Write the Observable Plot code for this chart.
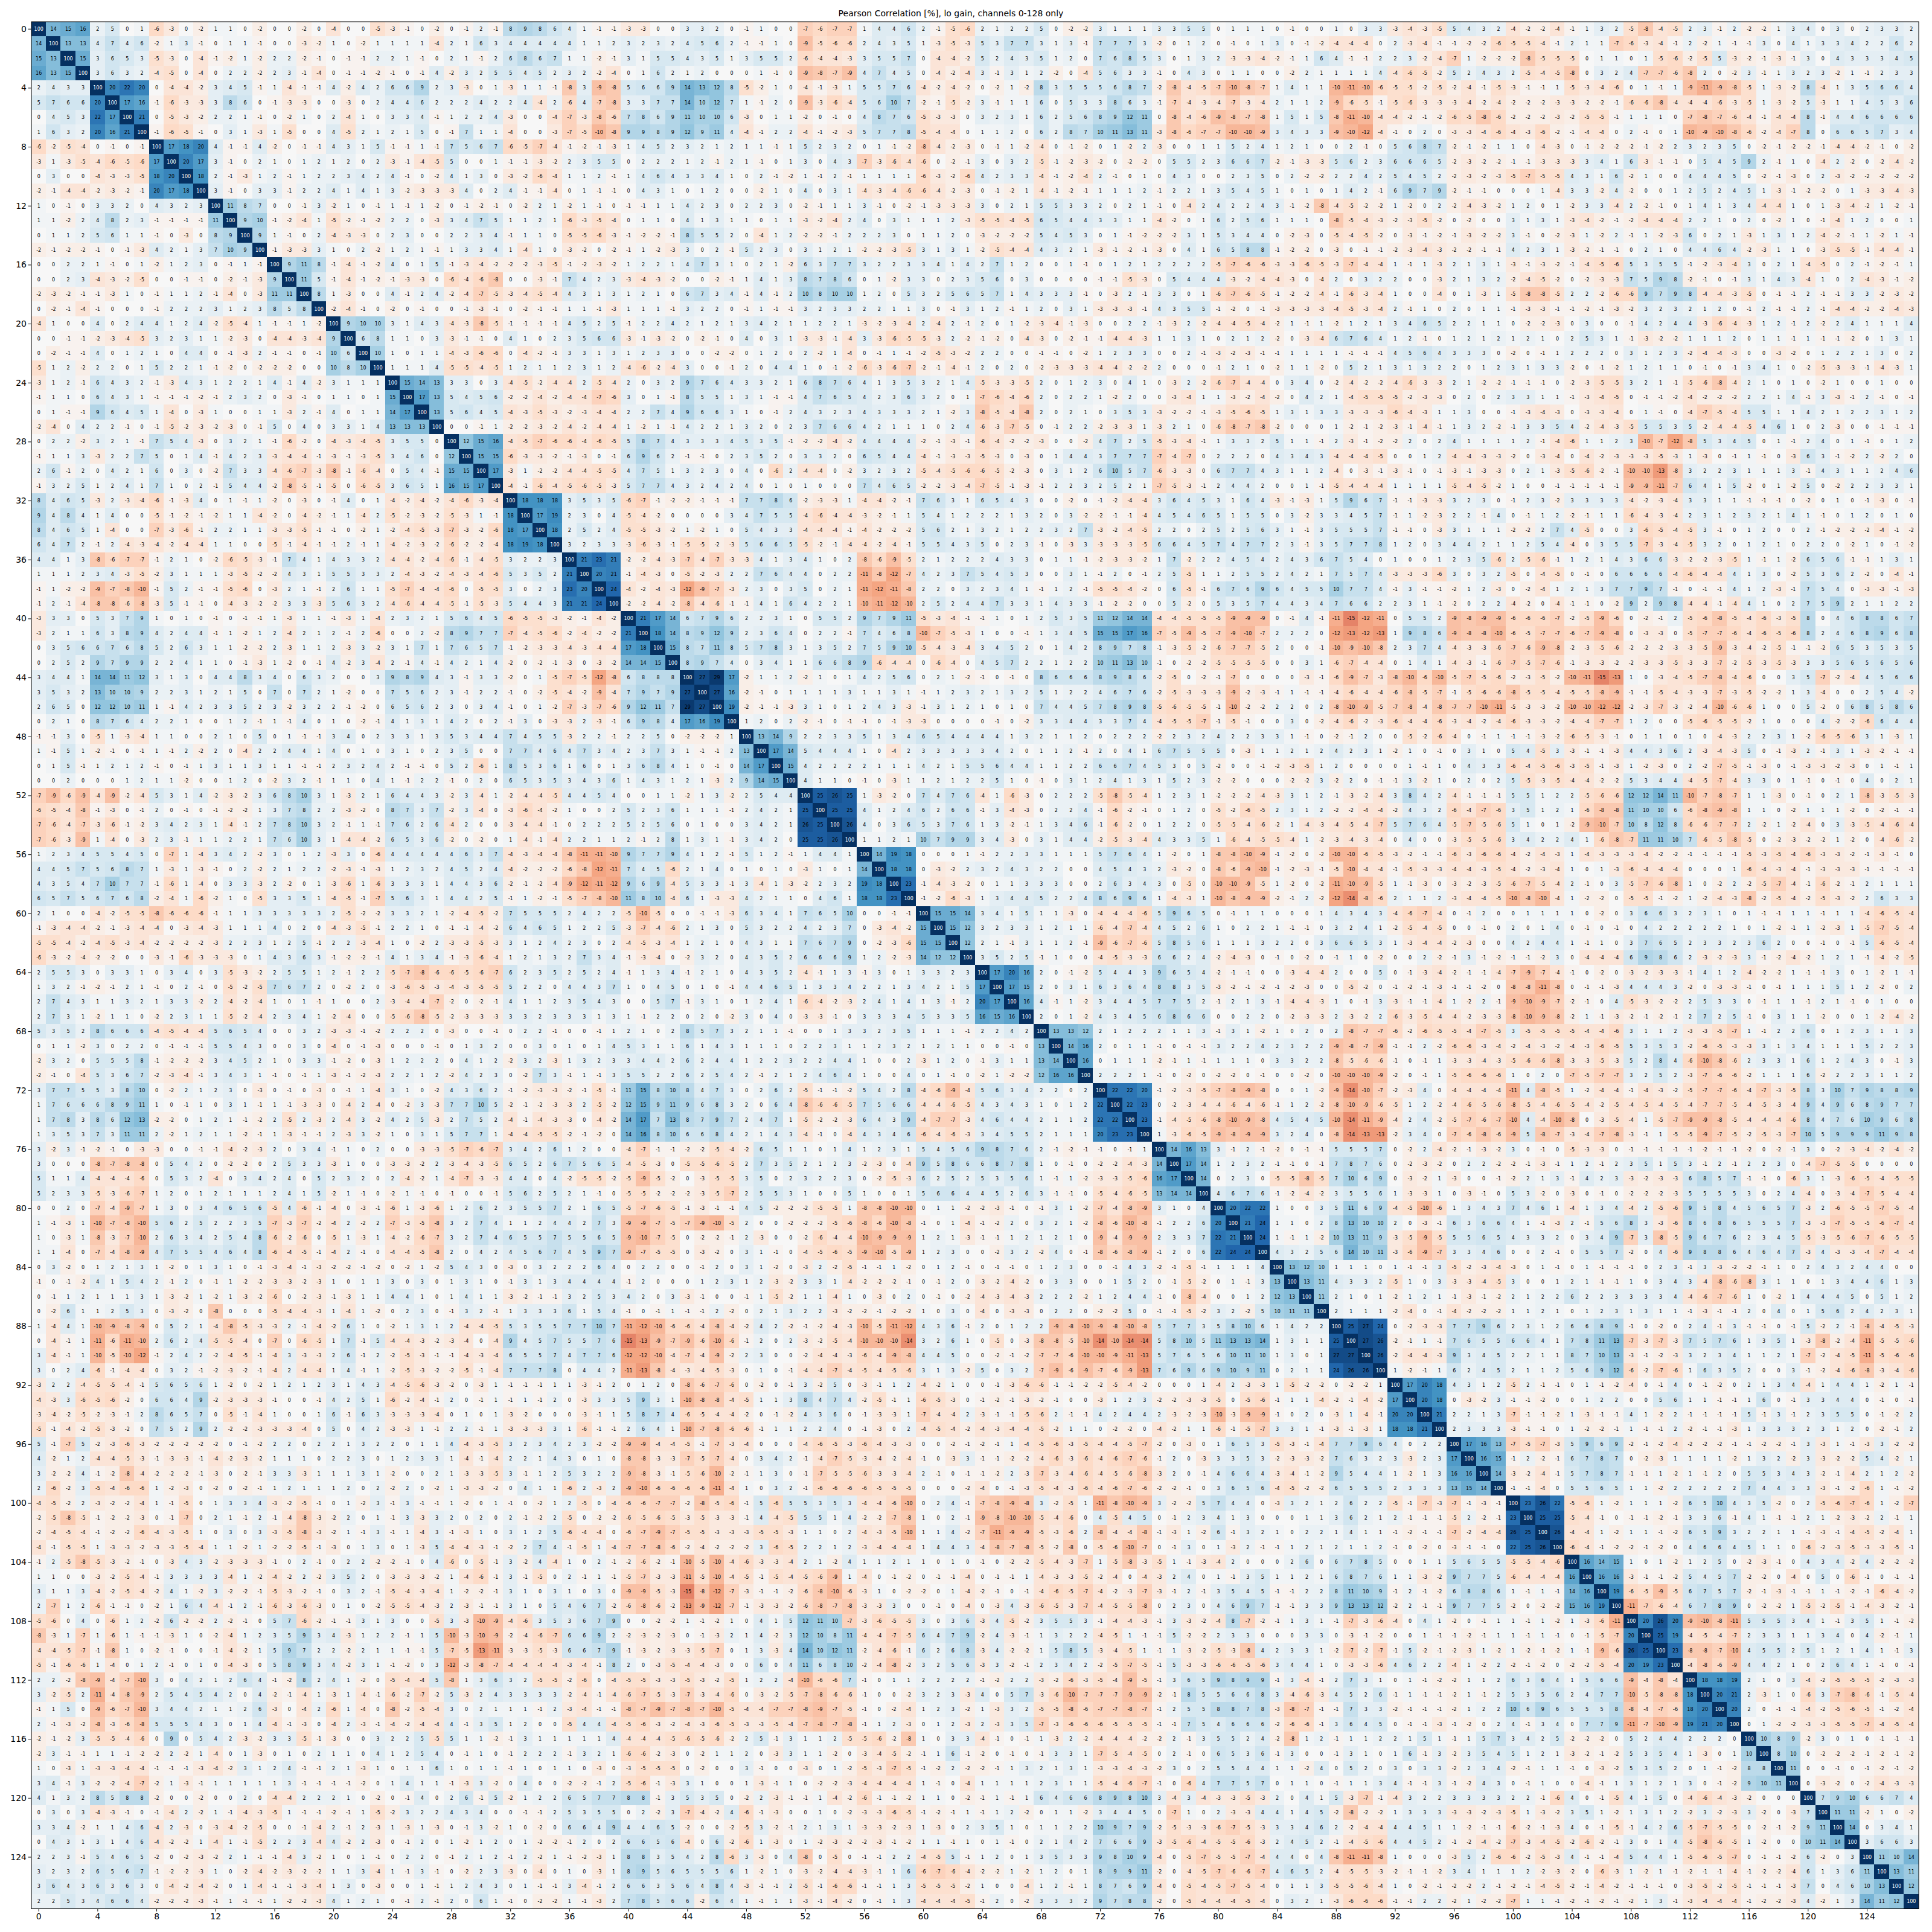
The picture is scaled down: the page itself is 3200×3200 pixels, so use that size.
<!doctype html>
<html><head><meta charset="utf-8">
<style>html,body{margin:0;padding:0;background:#fff}</style>
<script src="https://cdn.jsdelivr.net/npm/d3@7"></script>
<script src="https://cdn.jsdelivr.net/npm/@observablehq/plot@0.6"></script>
</head><body><div id="c"></div>
<script>
const title="Pearson Correlation [%], lo gain, channels 0-128 only";
const tickValues=[0,4,8,12,16,20,24,28,32,36,40,44,48,52,56,60,64,68,72,76,80,84,88,92,96,100,104,108,112,116,120,124];
const colorStops=[-30,-24,-18,-12,-6,0,6,12,18,24,30];
const colorRange=["#67001f","#b2182b","#d6604d","#f4a582","#fddbc7","#f7f7f7","#d1e5f0","#92c5de","#4393c3","#2166ac","#053061"];
// channels 0-63 x 0-63: each row starts just right of the diagonal
const upperA=[
[14,15,16, 2,5,0,1, -6,-3,0,-2, 1,1,0,-2, 0,0,-2,0, -4,0,0,-5, -3,-1,0,-2, 0,-1,2,-1, 8,9,8,6, 4,1,-1,-1, -3,-3,0,0, 3,3,2,0, -1,1,0,0, -7,-6,-7,-7, 1,4,4,6, 2,-1,-5,-6],
[13,13, 4,7,4,6, -2,1,3,-1, 0,1,1,-1, 0,0,-3,-2, 1,0,-2,1, 1,1,1,-4, 2,1,6,3, 4,4,4,4, 4,1,1,2, 3,2,3,2, 4,5,6,2, -1,-1,1,0, -9,-5,-6,-6, 2,4,3,5, 1,-3,-5,-3],
[15, 3,6,5,3, -5,-3,0,-4, -1,-2,1,-2, 2,2,-2,-1, 0,-1,-1,2, 2,1,-1,0, 2,1,-1,2, 6,8,6,7, 1,1,-2,-1, 3,1,5,5, 4,3,5,1, 3,5,5,2, -6,-4,-4,-3, 3,5,5,7, 0,-4,-4,-2],
[3,6,3,2, -4,-5,0,-4, 0,2,2,-2, 2,3,-1,-4, 0,-1,-1,-2, -1,0,-1,4, -2,3,2,5, 5,4,5,2, 3,2,-2,-4, 0,1,6,2, 1,2,0,0, 0,1,-1,0, -9,-8,-7,-9, 4,7,4,5, 0,-4,-2,-4],
[20,22,20, 0,-4,-4,-2, 3,4,5,-1, 1,-4,-1,-1, 4,-2,4,2, 6,6,9,2, 3,-3,0,1, -3,1,1,-1, -8,3,-9,-8, 5,6,6,9, 14,13,12,8, -5,-2,1,0, -4,-1,-3,1, 5,5,7,6, -4,-2,-4,-2],
[17,16, -1,-6,-3,-3, 3,8,6,0, -1,-3,-3,0, 0,-3,0,2, 4,4,6,2, 2,2,4,2, 2,4,-4,2, -6,4,-7,-8, 3,3,7,7, 14,10,12,7, 1,-1,2,0, -9,-3,-6,-4, 5,6,10,7, -2,-1,-5,-2],
[21, 0,-5,-3,-2, 2,2,1,-1, 0,-2,1,0, 2,-4,1,0, 3,3,4,-1, 1,2,2,4, -3,0,0,-4, -7,-3,-8,-6, 7,8,6,9, 11,10,10,6, -3,0,1,1, -2,0,-1,0, 4,8,7,6, -5,-3,-3,0],
[-1,-6,-5,-1, 0,3,1,-3, 1,-5,0,0, 4,-5,2,1, 2,1,5,0, -1,7,1,1, -4,0,0,-3, -7,-5,-10,-8, 9,9,8,9, 12,9,11,4, -4,-1,2,2, -4,-1,-2,-3, 5,7,7,8, -5,-4,-4,0],
[17,18,20, 4,-1,-1,4, -2,0,-1,-1, 4,3,1,5, -1,-1,1,-1, 7,5,6,7, -6,-5,-7,-4, -1,-2,-1,-3, 1,4,5,2, 3,2,1,2, 1,1,-1,1, 5,2,3,2, 0,1,-1,-2, -8,-4,-2,-3],
[20,17, 3,-1,0,2, 1,0,1,2, 1,2,0,2, -3,-1,-4,-5, 5,0,0,1, -1,-1,-3,-2, 2,3,5,5, 0,2,2,2, 1,2,-1,2, 1,-1,0,1, 3,0,4,3, -7,-3,-6,-4, -6,0,-2,-1],
[18, 2,-1,-3,1, 2,-1,1,2, 2,3,4,2, 4,-1,0,-2, 4,1,3,0, -3,-2,-6,-4, 1,1,2,-1, 1,4,6,4, 3,3,4,1, 0,2,-1,-2, 1,-1,2,-1, 1,1,1,1, -6,-3,-2,-6],
[3,-1,0,3, 3,-1,2,2, 4,1,4,1, 3,-2,-3,-3, -3,4,0,2, 4,-1,-1,-4, 0,1,-1,-1, 0,4,3,1, 0,1,2,0, 0,-2,1,0, 4,0,3,1, -4,-3,-4,-6, -6,-4,-2,-3],
[11,8,7, 0,0,-1,3, -2,1,0,-1, 1,-1,1,-2, 0,-1,-2,-1, 0,-2,2,1, -2,1,-1,0, -1,-1,1,1, 4,2,3,0, 2,2,3,0, -2,-1,1,1, 3,-1,0,-2, -1,-3,-3,-3, 1,-2,-3,-2],
[9,10, -1,-2,-4,1, -5,-2,-1,-2, 2,2,0,-3, 3,4,7,5, 1,1,2,1, -6,-3,-5,-4, 0,1,1,0, 4,1,3,1, 1,0,1,1, -3,-2,-4,2, 4,0,3,1, 1,1,2,-3],
[9, 1,-1,0,2, -4,-3,-3,0, 2,3,0,0, 2,2,3,4, -1,1,1,0, -5,-5,-6,-3, -1,-2,-2,-1, 8,5,5,2, 0,-4,1,2, -2,-2,-1,2, 2,2,3,0, 1,1,2,0],
[-1,-3,-3,3, 1,0,2,-2, 1,2,1,-1, 1,3,3,4, 1,-4,1,0, -3,-2,0,-2, -1,1,-2,-3, 3,0,2,-1, 5,2,3,0, 3,1,2,1, -2,-2,-3,-5, 3,1,3,1],
[9,11,8, -1,-4,-1,-2, 4,0,1,5, -1,-3,-4,-2, -2,-2,-3,-5, -1,-2,-3,-2, 1,2,2,1, 4,7,3,1, 0,2,1,-2, 6,3,7,7, 3,2,2,3, 3,4,1,4],
[11,5, -1,-4,-1,-2, -1,-3,-3,0, -6,-4,-6,-8, 0,0,-3,-1, 7,4,2,3, -3,-4,-3,-2, 0,0,-2,-1, 1,4,1,3, 8,7,8,6, 0,1,-2,3, 3,0,2,3],
[8, 1,-3,0,0, 4,-1,2,4, -2,-4,-7,-5, -3,-4,-5,-4, 4,3,1,3, 1,2,1,0, 6,7,3,4, -1,4,-1,2, 10,8,10,10, 1,2,0,5, 3,2,5,6],
[-2,-4,-1,0, -2,0,-1,0, 0,-1,-3,-1, 0,-2,-1,-1, 1,1,-1,-3, 1,1,1,-1, 3,2,2,0, -1,1,-1,-1, 3,2,3,3, 2,2,1,1, 3,0,-1,3],
[9,10,10, 3,1,4,3, -4,-3,-8,-5, -1,-1,-1,-1, 4,5,2,5, -1,2,2,4, 2,1,2,1, 3,4,2,1, 1,2,2,1, -3,-2,-3,-4, 2,-4,2,-1],
[6,8, 1,1,0,3, -3,-1,-1,0, 4,1,0,2, 3,5,6,6, -3,-1,-3,-2, 0,-2,-1,0, 4,0,3,1, -3,-3,-1,-4, 3,-3,-6,-5, -5,-3,2,-2],
[10, 1,0,1,1, -4,-3,-6,-6, 0,-4,-2,-1, 3,3,1,3, 1,2,3,3, 0,0,-2,-2, 0,1,2,0, 2,-2,1,-4, 0,-1,1,-1, -2,-5,-3,-2],
[1,1,1,4, -5,-5,-4,-5, 1,2,1,1, 2,3,1,2, -4,-6,-2,-4, 3,0,0,-1, 2,0,4,4, 1,0,-1,-2, -6,-3,-6,-7, -2,-1,-4,-1],
[15,14,13, 3,3,0,3, -4,-5,-2,-4, -4,2,-5,-4, 2,0,3,2, 9,7,6,4, 3,3,2,1, 6,8,7,6, 4,1,3,5, 3,2,1,4],
[17,13, 5,4,5,6, -2,-2,-4,-2, -4,-4,-7,-6, 3,0,1,-1, 8,5,5,1, 3,1,-1,-1, 4,7,6,5, 4,2,3,6, 3,2,0,1],
[13, 5,6,4,5, -4,-3,-5,-3, -2,-3,-4,-4, 2,2,7,4, 9,6,6,3, 1,0,-1,2, 4,3,2,3, 4,3,3,3, 2,1,-2,3],
[0,0,-1,1, -2,-2,-3,-2, -4,-2,-4,-4, 1,-2,1,-1, 4,2,2,1, 3,2,0,2, 3,7,6,6, 4,2,1,1, 1,0,2,4],
[12,15,16, -4,-5,-7,-6, -6,-4,-6,-5, 5,8,7,4, 3,3,3,4, 5,3,5,-1, -2,-2,-4,-2, 4,4,4,4, -2,-1,-3,-1],
[15,15, -6,-3,-3,-2, -1,-3,0,-1, 6,9,6,2, -1,-1,0,2, 3,5,2,0, 3,3,2,0, 6,5,4,4, -4,-1,-3,-3],
[17, -3,1,-2,-2, -4,-4,-5,-5, 4,7,5,1, 3,2,3,0, 4,0,-6,2, -4,-4,0,-2, 3,2,3,2, -5,-4,-5,-6],
[-4,-1,-6,-4, -5,-6,-5,-3, 5,7,7,4, 3,2,4,2, 4,0,1,0, 1,0,0,0, 7,4,6,5, -2,-2,-3,-4],
[18,18,18, 3,5,3,5, -6,-7,-1,-2, -2,-1,-1,-1, 7,7,8,6, -2,-3,-3,1, -4,-4,-2,-1, 7,6,3,1],
[17,19, 2,3,0,4, -5,-4,-2,0, 0,0,0,3, 4,7,5,5, -4,-6,-4,-4, -3,-2,-1,1, 5,4,1,2],
[18, 2,5,2,4, -5,-5,-3,-2, 1,-2,1,0, 5,4,3,3, -4,-4,-4,-1, -4,-2,-2,-2, 5,6,2,1],
[3,2,3,3, -3,-6,-3,-1, -5,-5,-2,-3, 5,6,6,5, -5,-2,-1,-4, -4,-2,-4,-1, 5,5,4,3],
[21,23,21, -2,-2,-4,-3, -7,-4,-7,-3, -3,4,1,3, 4,1,0,2, -8,-6,-9,-5, 2,1,2,2],
[20,21, -1,-4,-3,0, -5,-2,-3,2, 2,7,6,4, 4,0,2,2, -11,-8,-12,-7, 4,2,3,7],
[24, -4,-2,-4,-3, -12,-9,-7,-3, 2,3,0,3, 5,0,2,1, -11,-12,-11,-8, 2,2,0,3],
[-2,-2,-4,-2, -8,-4,-6,-1, -1,4,1,6, 4,2,2,1, -10,-11,-12,-10, 2,5,2,4],
[21,17,14, 6,7,9,6, 2,2,3,1, 0,5,5,2, 9,7,9,11, -5,-3,-4,-1],
[18,14, 8,9,12,9, 2,3,6,4, 0,2,2,-1, 7,4,6,8, -10,-7,-5,-3],
[15, 8,7,11,8, 5,7,8,3, 1,3,5,2, 7,5,9,10, -5,-4,-3,-4],
[8,9,7,4, 0,3,4,1, 1,6,6,8, 9,-6,-4,-4, 0,-6,-4,0],
[27,29,17, -2,1,1,2, -2,1,0,1, 4,2,5,6, 0,2,1,-2],
[27,16, -2,-1,0,1, 1,1,1,3, 1,1,3,1, -1,1,2,3],
[19, -2,-1,-1,-3, 3,1,0,1, 2,4,3,-3, -1,3,1,2],
[1,2,0,2, -2,-1,0,-1, -1,0,-1,-3, -3,0,0,0],
[13,14,9, 2,2,3,3, 5,1,3,4, 6,5,4,4],
[17,14, 5,4,4,4, 1,0,-4,2, 3,3,3,3],
[15, 4,2,2,2, 2,1,1,1, 4,2,1,5],
[4,1,1,0, -1,0,-3,1, 1,2,1,2],
[25,26,25, 1,-3,-2,0, 7,4,7,6],
[25,25, 4,1,2,4, 6,2,6,6],
[26, 4,0,3,6, 5,3,7,6],
[1,1,2,1, 10,7,9,9],
[14,19,18, 0,0,0,1],
[18,18, 0,-3,-2,2],
[23, -1,-4,-3,-2],
[-1,-2,-6,-3],
[15,15,14],
[15,12],
[12],
[]
];
// channels 0-63 (rows) x 64-127 (columns)
const blockB=[
[2,1,2,2, 5,0,-2,-2, 3,1,1,1, 3,3,5,5, 0,1,1,1, 0,-1,0,0, 1,0,3,3, -3,-4,-3,-5, 5,4,3,2, -4,-2,-2,-4, -1,1,3,2, -5,-8,-4,-5, 2,3,-1,2, -2,-2,1,3, 4,0,3,0, 2,3,3,2],
[5,3,7,7, 3,1,3,-1, 7,7,7,3, -2,0,1,2, 0,-1,0,1, 3,0,-1,-2, -4,-4,-4,0, 2,-3,-4,-1, -1,-2,-2,-6, -5,-5,-4,-1, 2,1,1,-7, -6,-3,-4,-1, 2,-2,1,-1, -1,3,0,4, 1,3,3,4, 2,2,6,2],
[5,2,4,3, 5,1,2,0, 7,6,8,5, 3,0,1,3, 2,-3,-3,-4, -2,-1,1,6, 4,-1,-1,2, 2,3,-2,-4, -7,1,-2,-2, -2,-8,-5,-5, -5,0,1,1, 0,1,-5,-6, -2,-5,5,-3, -2,-1,-3,-1, 3,0,4,3, 3,3,4,5],
[3,-1,3,1, 2,-2,0,-4, 5,6,3,3, -1,0,4,3, 0,1,1,0, 0,-2,2,1, 1,1,1,4, -4,-6,-5,-2, 5,2,4,3, 2,-5,-4,-5, -8,0,3,2, 4,-7,-7,-6, -8,2,0,-2, 3,-1,1,3, 2,3,-2,1, -1,2,3,3],
[0,-2,1,-2, 8,3,5,5, 5,6,8,7, -2,-8,-4,-5, -7,-10,-8,-7, 1,4,1,1, -10,-11,-10,-6, -5,-5,-2,-5, -2,-4,-1,-5, -3,-1,-1,1, -5,-3,-4,-6, 0,1,-1,1, -9,-11,-9,-8, -5,1,-3,-2, 8,-4,1,3, 5,6,6,4],
[3,-1,1,1, 6,0,5,3, 3,8,6,3, -1,-7,-4,-3, -4,-7,-3,-4, 2,1,1,2, -9,-6,-5,-1, -5,-6,-3,-3, -3,-4,-2,-4, -2,-2,-2,-3, -3,-2,-2,-1, -6,-6,-8,-4, -4,-4,-6,-3, -5,1,-3,-2, 5,-3,1,1, 4,5,3,6],
[3,2,3,1, 6,2,5,6, 8,9,12,11, 0,-8,-4,-6, -9,-8,-7,-8, 1,5,1,5, -8,-11,-10,-4, -4,-2,-1,-2, -6,-5,-8,-6, -2,-2,-2,-3, -2,-5,-5,-1, 1,1,1,0, -7,-8,-7,-6, -4,-1,-4,-4, 8,-1,4,4, 6,6,6,6],
[1,1,2,0, 6,2,8,7, 10,11,13,11, -3,-8,-6,-7, -7,-10,-10,-9, 3,4,3,3, -9,-10,-12,-4, -1,0,2,0, -3,-3,-4,-6, -4,-3,-6,-2, -1,-4,-4,0, 2,-1,0,1, -10,-9,-10,-8, -6,-2,-4,-7, 8,0,6,6, 5,7,3,4],
[0,-1,1,-2, -4,0,-1,-2, 0,1,-2,2, -3,0,0,1, 1,5,2,4, 1,2,1,0, 0,2,-1,0, 5,6,8,7, -2,-1,-2,1, 1,0,-4,-3, 0,-1,-2,-2, -2,-1,-2,2, 3,2,3,5, 0,-2,-1,-2, -2,-1,-4,-4, -2,-1,0,-2],
[3,0,3,2, -5,-1,-2,-3, -2,0,-2,-2, 0,5,5,2, 3,6,6,7, -2,-1,-3,-3, 5,6,2,3, 6,6,6,5, -2,-3,-2,-2, -1,-1,-3,-3, -3,3,4,1, 6,-3,-1,-1, 0,5,4,5, 9,2,-1,1, 0,-4,2,-2, 0,-2,-4,-2],
[4,2,3,3, -4,-1,-2,-4, 2,-1,0,1, 0,4,3,0, 0,2,3,5, 0,2,-2,-2, 2,2,4,2, 5,4,5,2, -2,-3,-2,-3, -5,-7,-5,-5, 4,3,1,6, -2,1,0,0, 4,4,4,5, 0,-2,-1,-3, 0,2,-3,-2, -2,-2,-2,-2],
[0,-1,-2,1, -4,-1,-2,-1, 1,1,1,2, -1,2,2,1, 3,5,4,5, 1,0,1,0, 1,4,2,-1, 6,9,7,9, -2,-1,-1,0, 0,0,1,-4, 3,3,-2,4, -2,0,0,1, 2,5,2,4, 5,1,-3,-1, -2,-2,0,1, -3,-3,-4,-3],
[3,0,2,1, 5,5,3,3, 2,0,2,1, -1,0,-4,2, 4,2,2,4, 3,-1,-2,-8, -4,-5,-2,-2, 1,-2,0,2, -2,-4,-3,-2, 1,2,0,1, -2,3,3,-4, 2,-2,-1,0, 1,4,1,3, 4,-4,-4,1, 0,1,-3,-4, -2,1,-2,-1],
[-5,-5,-4,-5, 6,5,4,4, 3,3,1,1, -4,-2,0,1, 6,2,5,6, 1,1,1,0, -8,-5,-4,-3, -2,-3,-5,-2, 0,-2,0,0, 3,1,3,1, -3,-4,-2,-1, -2,-4,-4,-4, 2,2,1,0, 2,0,-2,1, 0,-1,-4,1, 2,0,0,1],
[-3,-2,-2,-2, 5,4,5,3, 0,1,-1,-2, -2,-2,3,1, 5,3,4,4, 0,-2,-3,0, -5,-4,-5,-2, 0,-3,-1,-2, -1,-3,-2,-2, 3,-1,0,-2, -3,1,-2,2, -1,1,-2,-3, 6,0,2,1, -3,1,3,1, 2,-4,-2,-1, 1,-2,1,-1],
[-2,-5,-4,-4, 4,3,2,1, -3,-1,-2,-1, -3,0,4,1, 6,5,8,8, -1,-2,-2,0, -3,0,-1,-1, -2,-3,-4,-3, -2,-2,-1,-1, 4,2,3,1, -3,-2,-1,-1, 0,2,1,0, 4,4,6,4, -2,-3,1,1, 0,-3,-5,-5, -1,-4,-4,-1],
[2,7,1,2, 0,0,1,-1, 0,1,2,1, 2,2,2,2, -5,-7,-6,-6, -3,-3,-6,-5, -3,-7,-4,-4, 1,-1,1,-3, 2,1,3,1, -3,-1,-3,-2, -1,-4,-5,-6, 5,3,5,5, -1,-2,-3,-4, 3,0,2,1, -4,-5,0,2, -1,-2,-1,1],
[5,6,0,3, 0,0,0,0, -1,-1,-5,-3, 0,5,4,4, 4,-3,-2,-4, -4,-3,0,-4, 2,0,3,2, 2,0,0,-3, 2,1,3,2, -2,-4,-5,-2, 0,-2,-3,-3, 7,5,9,8, -2,-1,0,-1, 3,1,4,3, -4,1,0,2, -4,-3,-1,-2],
[5,7,1,4, 3,3,3,-1, 0,-3,2,-1, 3,3,0,1, -6,-7,-6,-5, -1,-2,-2,-4, -1,-6,-3,-4, 1,0,0,-4, 0,1,-3,1, -5,-8,-8,-5, 2,2,-2,-6, -6,9,7,9, 8,-4,-4,-3, -5,0,-1,-1, 2,-1,-1,3, 3,-2,-3,-2],
[1,2,-1,1, 2,0,3,1, -3,-3,-3,-1, 4,3,5,5, -1,-2,0,-1, -3,-3,-3,-3, -4,-5,-3,-4, 2,-1,1,0, 2,0,1,1, -1,-3,-3,-1, -1,-2,-1,-3, -2,3,2,3, 2,1,2,0, -1,2,-1,-1, 2,-1,-4,-4, -2,-2,-4,-3],
[2,0,1,-2, -3,-4,-1,-3, 0,0,2,2, -1,-3,2,-2, -4,-4,-5,-4, -2,1,-1,1, -2,1,2,1, 3,4,6,5, 2,2,1,1, 0,-2,-2,-3, 0,3,0,0, -1,4,2,4, 4,-3,-6,-4, -3,1,2,-1, 2,-2,2,4, 1,1,1,4],
[-1,-2,0,-4, -3,0,-2,-1, -1,-4,-4,-3, 1,1,3,1, 0,2,1,2, -2,0,-3,-4, 6,7,6,4, 1,2,-1,0, 1,2,1,2, 1,2,1,0, 2,5,3,1, -1,-3,-2,-2, 1,1,1,2, 0,1,1,-1, 1,-1,-1,-2, 0,1,3,1],
[2,2,0,0, -1,-1,0,-2, 1,2,3,3, 0,0,2,-1, -3,-2,-3,-1, -1,1,1,1, 1,-1,-1,-1, 4,5,6,4, 3,3,3,0, -2,0,-1,1, 2,2,2,0, 3,1,2,3, -2,-4,-4,-3, 0,0,-3,-2, 0,1,2,2, 1,3,0,2],
[2,0,2,0, -2,-3,-3,-3, -4,-4,-2,-2, 2,0,0,0, -1,2,1,0, -2,1,1,-2, 0,5,2,1, 3,1,3,2, 2,0,1,2, 3,1,3,3, -2,0,-1,-2, 1,2,1,1, 0,-1,0,-1, 3,4,1,0, -2,-5,-3,-3, -1,-4,-3,1],
[-5,-3,-3,-5, 2,0,1,2, 3,0,4,1, 0,-3,2,-2, -6,-7,-4,-4, 0,3,4,0, -2,-4,-2,-2, -4,-6,-3,-3, 2,1,-2,-2, -1,-1,-1,0, -2,-3,-5,-5, 3,2,1,-1, -5,-6,-8,-4, 2,1,0,1, 0,-2,1,0, 0,1,0,0],
[-7,-6,-4,-6, 2,0,2,2, 1,-2,2,0, 0,-3,-4,1, 1,-3,-2,-4, -2,0,4,2, 1,-4,-5,-5, -5,-2,-3,-3, 0,2,0,2, 3,3,1,1, -1,-3,-4,-5, 0,-1,-1,-2, -4,-2,-2,-2, 2,2,1,4, -1,3,-3,-1, 2,-1,0,-1],
[-8,-5,-4,-8, 2,0,2,1, 0,3,5,3, -3,-2,-2,-1, -3,-5,-6,-5, 1,3,1,3, 3,-3,-3,-3, -6,-4,-3,1, 1,3,0,0, -1,-3,-4,-3, 0,-3,-3,-4, 0,1,-1,0, -4,-7,-5,-4, 5,5,1,1, 4,2,1,2, 2,3,1,2],
[-6,-3,-7,-5, 0,-1,2,2, -2,-3,-3,1, -3,2,1,0, -6,-8,-7,-8, -2,0,0,0, 1,-2,-1,-2, -3,-1,-4,-1, 1,3,2,-2, -1,3,3,5, 4,-2,-4,-3, -5,5,5,3, 5,-2,-4,-4, -5,4,6,1, 0,2,-3,0, 0,-1,-1,-1],
[-6,-4,-2,-2, -3,0,0,-2, 4,7,2,5, -5,-3,-4,-1, 1,3,3,2, 5,1,1,-1, 2,-3,-1,-2, -2,2,0,2, 4,1,1,1, 1,2,-1,-4, -6,1,1,2, 3,-10,-7,-12, -8,5,3,4, 5,0,1,-1, 2,4,0,1, -1,0,1,2],
[-5,-3,0,-3, 0,1,4,4, 3,7,7,7, -7,-4,-7,0, 2,2,2,0, 4,3,4,3, -4,-4,-4,-5, 0,0,1,2, -4,-4,-3,-3, -2,0,-3,-4, 0,-4,-2,-3, -3,-3,-5,-3, 1,-3,0,-1, 1,-1,0,-3, 6,3,-1,-2, 2,-2,2,0],
[-6,-5,-2,-3, 0,3,1,2, 6,10,5,7, -6,-3,-3,0, 6,7,7,4, 3,1,1,2, -4,0,-3,-1, -3,-1,0,-1, -3,-1,-3,-3, 0,2,1,-3, -5,-6,-2,-1, -10,-10,-13,-8, 3,2,2,3, 1,1,1,3, -1,4,3,1, 1,2,4,6],
[-7,-5,-1,-3, -1,2,2,3, 2,5,2,1, -7,-5,-3,-1, 2,4,4,2, 0,0,1,-1, -5,-4,-4,-4, 1,1,1,1, -5,-4,-5,-2, 1,0,0,-1, -1,-1,-1,-1, -9,-9,-11,-7, 6,4,1,5, -2,0,1,-2, 5,0,-2,2, 2,3,3,1],
[6,5,4,3, 0,0,-2,0, -1,-2,-4,-4, 3,6,4,5, 3,1,6,4, -3,-1,-3,1, 5,9,6,7, -1,-1,-3,-3, 3,2,3,0, -1,2,3,-2, 3,3,3,3, -4,-2,-3,-4, 3,3,1,1, -1,-1,-1,0, -2,0,1,0, -1,-3,0,-1],
[2,2,1,3, 2,0,3,-2, -2,-1,-1,-4, 4,5,4,6, 5,1,5,5, 0,3,-2,3, 3,4,5,7, -1,1,-2,-3, 2,2,-1,4, 0,-1,1,2, -2,-1,1,1, -6,-4,-3,-4, 2,3,1,2, 3,2,1,4, 1,-1,0,1, 2,0,1,0],
[3,2,1,2, 2,3,2,7, -3,-2,-4,-5, 2,2,0,2, 5,2,5,6, 3,1,-1,3, 5,5,5,7, -1,-1,0,-3, 3,1,1,1, -2,-2,2,7, 4,-5,0,0, 3,-6,-5,-4, -5,3,-1,0, 1,2,0,0, 2,-1,-2,-2, -2,-4,-1,-2],
[5,0,2,3, -1,0,-3,3, -3,-3,-3,-5, 6,6,4,5, 7,4,7,7, 2,3,-1,3, 5,7,7,8, 1,2,0,3, 4,4,2,1, 1,2,5,4, -4,0,3,5, 5,-7,-3,-4, -5,3,2,0, 1,2,1,0, 2,2,0,-2, 1,0,-1,-2],
[2,4,3,3, 0,1,1,-1, -2,-3,-3,-2, 1,7,-2,2, 2,4,5,4, 2,4,3,6, 7,5,4,0, 1,0,0,1, 2,3,5,-6, 2,-5,-6,-1, 1,2,1,4, 3,6,6,-3, -2,-2,-3,-5, 1,-1,1,-2, 6,5,6,-1, -1,1,3,1],
[5,4,5,3, 0,0,3,1, -1,2,0,-1, 2,5,-5,1, 1,2,5,5, 2,4,2,1, 7,5,7,4, -3,-3,-3,-6, 3,0,3,2, -5,0,-4,-5, 0,-1,0,6, 6,6,6,-4, -6,-4,-4,4, 1,3,0,-2, 5,3,6,2, -2,0,-4,-1],
[2,3,4,1, -1,1,2,-1, -5,-5,-4,-2, 0,6,-5,-1, 6,7,6,9, 6,4,5,5, 10,7,7,4, -1,3,-1,-1, -2,1,2,-3, 0,-2,-4,1, 2,1,3,7, 7,9,7,-1, 0,-1,-1,4, 1,2,-3,-1, 7,5,4,0, -3,-3,-1,-3],
[4,7,3,3, 1,4,3,3, -1,-2,-2,0, 0,5,-2,0, 5,3,5,7, 4,4,3,4, 7,6,6,2, 2,3,1,-1, -2,0,2,2, -4,-2,0,-4, -1,-1,0,-2, 9,2,9,8, -4,-4,-1,-4, 4,1,0,2, 7,5,9,2, 1,1,2,2],
[-1,1,0,1, 2,5,3,5, 11,12,14,14, -4,-4,-5,-5, -5,-9,-9,-9, 0,-1,4,-1, -11,-15,-12,-11, 0,5,5,2, -9,-8,-9,-9, -6,-6,-6,-7, -2,-5,-9,-6, 0,-2,-1,2, -5,-6,-8,-5, -4,-6,-3,-5, 8,0,4,6, 8,8,6,7],
[1,0,0,-1, 1,3,4,5, 15,15,17,16, -7,-5,-9,-5, -7,-9,-10,-7, 2,2,2,0, -12,-13,-12,-13, 1,9,8,6, -9,-8,-8,-10, -6,-5,-7,-7, -6,-7,-9,-8, 0,-3,-3,0, -5,-7,-7,-6, -4,-6,-5,-6, 8,2,4,6, 8,9,6,8],
[3,4,5,2, 0,1,4,2, 8,9,7,8, -1,-3,-5,-2, -6,-7,-7,-5, 2,0,0,-1, -10,-9,-10,-8, 2,3,7,4, -4,-3,-3,-6, -7,-6,-9,-8, -2,-3,-5,-6, -2,-2,-2,-3, -3,-5,-9,-3, -4,-2,-5,-1, -1,-2,6,5, 3,5,3,5],
[4,5,7,2, 2,1,2,2, 10,11,13,10, -1,0,-2,-2, -5,-5,-5,-5, 0,0,3,1, -6,-7,-4,-4, 0,1,4,1, -4,-3,-1,-6, -7,-5,-7,-6, -1,-3,-3,-2, -2,-3,-3,-5, -3,-3,-7,-2, -5,-3,-5,-3, 3,3,5,6, 5,6,5,6],
[-1,0,-1,0, 8,6,6,6, 8,9,8,6, -2,-5,0,-2, -1,-7,0,0, 0,0,-3,-1, -6,-9,-7,-3, -8,-10,-6,-10, -5,-7,-5,-6, -2,-3,-5,-2, -10,-11,-15,-13, 1,0,-3,-4, -5,-7,-8,-4, -6,0,0,3, 5,-7,-2,-4, 4,5,6,6],
[2,1,3,2, 5,1,2,2, 4,6,7,6, -2,-5,-3,-3, -3,-9,-2,-3, -1,1,-1,-1, -4,-6,-4,-4, -6,-8,-5,-7, -1,-5,-6,-6, -8,-5,-5,-4, -5,-5,-8,-9, -1,-1,-5,-4, -3,-3,-7,-3, -5,-2,-2,1, 3,-4,0,0, 2,5,4,-2],
[1,0,1,0, 7,4,4,5, 7,8,9,8, -5,-6,-5,-5, -1,-10,-2,-2, 2,2,0,2, -8,-10,-9,-5, -7,-8,-4,-8, -7,-7,-10,-11, -5,-3,-3,-2, -10,-10,-12,-12, -2,-3,-7,-3, -2,-4,-10,-6, -6,1,0,0, 5,-2,0,6, 8,5,8,6],
[0,-1,0,-2, 3,3,4,4, 3,3,7,4, -4,-5,-5,-7, -1,-5,-1,0, 0,3,0,-2, -4,-6,-2,-3, -6,-4,-4,-6, -3,-4,-2,-4, -6,-3,-3,-2, -4,-4,-7,-7, 1,2,0,0, -5,-6,-5,-5, -2,1,0,0, 0,4,-2,-2, -6,6,4,4],
[4,4,1,3, 2,1,1,2, 0,2,2,2, -2,2,3,2, 4,2,2,3, 3,1,-1,0, -2,-1,2,0, 0,-5,-2,-6, -4,0,-1,1, -1,-1,-3,-2, -6,-5,-3,-1, 0,1,1,0, 1,0,-4,-3, 2,2,3,1, -2,-6,-5,-6, 3,1,-3,1],
[3,4,2,0, 1,1,2,-1, 2,0,4,1, 6,7,5,5, 5,0,-3,1, 1,2,1,2, 4,2,3,1, -2,1,0,-1, 0,3,1,0, 5,4,-5,3, -3,-1,-1,-3, 4,4,3,6, 2,-3,-4,-3, 5,0,-1,-3, 2,-1,3,1, -3,-2,-1,-1],
[5,6,4,4, 1,1,2,2, 6,6,7,4, 5,3,0,5, -2,0,0,-1, -2,-3,-5,1, 2,0,0,0, 0,1,-1,1, 0,4,3,3, -6,-4,-5,-6, -3,-5,-1,-3, 1,-2,-3,0, 2,-2,-7,-5, -1,-3,0,-1, -3,-3,-2,-3, 0,1,-1,1],
[2,5,1,0, -1,0,3,1, 2,4,1,3, 1,5,2,3, -2,-2,0,0, 0,-2,-2,3, -2,2,0,-1, -1,3,-2,1, 0,2,0,2, 5,-5,-3,-5, -4,-4,-2,-2, 5,3,4,4, -4,-5,-7,-4, 3,3,0,1, -1,0,-1,0, 4,0,2,1],
[-4,1,-6,-3, 0,2,2,2, -5,-8,-5,-4, 1,2,3,1, -2,-2,-2,-4, -3,3,1,2, -1,-3,-2,-4, 3,8,4,2, -4,-1,-1,-1, 5,5,1,2, 2,-5,-6,-6, 12,12,14,11, -10,-7,-8,-7, 1,1,-3,0, -1,0,2,1, -8,-3,-5,-3],
[-1,3,-4,-3, 0,2,2,4, -1,-6,-2,-1, 0,1,2,0, -5,-2,-6,-5, 2,3,1,2, -2,-2,-4,-4, -2,4,3,2, -6,-4,-7,-6, 3,5,1,2, 1,-6,-8,-8, 11,10,10,6, -6,-8,-9,-8, 1,1,0,-2, 1,1,1,-2, 0,-2,-1,-1],
[1,3,-2,-1, 1,3,4,6, -1,-6,-2,0, 1,2,2,0, -5,-5,-4,-6, -2,1,-4,-3, -4,-5,-4,-7, 5,7,6,4, -5,-7,-5,-6, 5,1,0,1, -2,-9,-10,-7, 10,8,12,8, -6,-6,-7,-7, 2,-2,1,-2, -4,0,3,-3, -5,-4,-6,-4],
[3,4,-3,0, 3,1,4,4, -2,-5,-3,-4, 4,3,3,5, 1,-6,-4,-5, -5,-4,1,-2, -3,-4,-3,-4, 0,4,0,0, -3,-5,-5,-6, 3,4,2,2, 4,1,-6,-8, -7,11,11,10, 7,-6,-5,-8, -5,0,-2,-3, -2,-2,1,-2, 0,-4,-6,-2],
[-1,2,2,3, 3,1,1,1, 5,7,6,4, 1,-2,0,1, -8,-8,-10,-9, -1,-2,0,-2, -10,-10,-6,-5, -3,-2,-1,-1, -6,-3,-6,-6, -4,-2,-4,-3, 1,-4,-3,-3, -3,-4,-2,-2, -1,-1,-1,-1, -5,-3,-5,-4, -6,-3,-3,-2, -1,-3,-1,0],
[3,2,4,3, 2,2,0,0, 4,5,4,3, 2,-3,-2,0, -8,-6,-9,-10, -1,-2,-3,-1, -5,-10,-4,-4, -1,-5,-3,-3, -4,-4,-3,-5, -4,-2,-3,-4, 1,0,1,-3, -6,-4,-4,-4, 0,0,0,1, -6,-4,-3,-4, -1,-3,-3,-3, -1,-1,-1,-1],
[0,1,1,3, 3,3,0,0, 2,6,3,4, 3,0,-5,0, -10,-10,-9,-5, 1,-2,0,-2, -11,-10,-9,-5, 1,-1,-3,0, -3,-2,-3,-5, -6,-7,-5,-4, 2,-1,0,3, -5,-7,-6,-8, 1,0,-2,2, -2,-5,-7,-4, -1,-6,-2,-1, 2,1,1,1],
[1,3,4,4, 5,2,2,4, 8,6,9,6, 1,-4,-3,1, -10,-8,-9,-9, -2,-1,2,-2, -12,-14,-8,-6, 2,1,1,2, -3,-4,-4,-5, -10,-8,-10,-4, 1,-2,-2,0, -5,-5,-1,-2, 1,-2,-4,-3, -8,-2,-5,-4, -2,-5,-3,-2, 2,6,3,3],
[3,4,1,5, 1,1,-3,0, -4,-4,-4,-6, 5,9,6,5, 0,-1,1,1, 0,0,0,1, 4,3,4,3, -4,-6,-7,-4, 0,-1,2,0, 0,1,1,1, 1,0,-2,0, 3,6,6,3, 2,3,1,0, 1,-1,-1,1, 1,-1,1,1, -4,-6,-5,-4],
[3,2,3,3, 1,2,1,1, -6,-4,-7,-4, 4,5,2,6, 1,0,2,2, 1,-1,-1,0, 3,2,4,1, -2,-5,-4,-5, 0,0,-1,0, 2,0,1,4, 0,-1,0,-1, 0,4,2,2, 2,2,2,1, 0,1,-2,-1, 1,-2,-3,1, -5,-7,-5,-4],
[2,1,-1,3, 1,1,2,-1, -9,-6,-7,-6, 5,8,5,6, 1,1,1,3, 2,2,0,3, 6,6,5,3, 1,-3,-4,-4, -2,-3,0,0, 4,2,4,4, 1,-1,1,0, 3,7,6,5, 2,3,3,2, 3,6,2,0, 0,-1,0,-1, 5,-6,-5,-4],
[3,5,2,5, -1,1,0,0, -4,-5,-3,-3, 6,6,2,4, -2,-4,-3,0, -1,0,-2,0, -1,1,0,-2, 0,0,2,-2, -1,3,-1,-2, -1,-1,-2,3, 0,-4,-4,-4, 6,9,8,6, 2,-3,-2,-3, 3,-1,-2,-4, -2,1,2,1, -1,-4,-2,-5]
];
// channels 64-127 x 64-127: each row starts just right of the diagonal
const upperC=[
[17,20,16, 2,0,-1,-2, 5,4,4,3, 9,6,5,4, -2,-1,-1,0, 0,-3,-4,-4, 2,0,0,5, 0,-1,-3,-4, -2,-1,-1,-4, -7,-9,-7,-4, -1,0,-2,0, -3,-2,-3,-3, -1,4,1,2, -4,-2,-2,1, -1,-1,3,0, 1,-2,1,-1],
[17,15, 2,0,3,1, 6,3,6,4, 8,8,3,5, -3,-2,-1,-2, -1,-2,-3,0, 0,-5,-2,0, -1,-2,-1,-3, -1,-1,-2,0, -8,-8,-11,-8, 0,-1,-1,-3, 4,4,4,3, -2,0,-3,-3, -1,0,-1,1, 1,1,5,1, 2,-2,0,2],
[16, 4,-1,1,-2, 3,4,4,5, 7,7,5,2, -1,2,1,3, -1,-4,-4,-3, 1,0,-1,3, -3,-1,-1,-4, 1,-2,2,-1, -9,-10,-9,-7, -2,-1,0,4, -5,-3,-2,-2, 2,5,3,3, 0,-1,1,1, -1,2,1,-1, 0,1,0,0],
[2,0,1,-2, 4,3,4,5, 6,8,6,6, 0,0,2,2, 0,-2,-3,-3, 2,-3,-2,2, -6,-3,-5,-4, -4,-2,-3,-3, -8,-10,-9,-8, -2,1,-1,-3, -2,-1,-2,-1, 2,7,2,5, -1,0,3,1, 1,-2,0,0, 1,-2,-4,-2],
[13,13,12, 2,1,2,2, 2,1,1,3, -1,3,1,-2, 1,0,2,0, 2,-8,-7,-7, -6,-2,-6,-5, -5,-4,-7,-5, 3,-5,-5,-5, -5,-4,-4,-6, 3,1,1,2, -3,-3,-5,-7, 1,-1,2,2, 6,0,1,2, 3,1,1,3],
[14,16, 2,0,1,1, -1,0,-1,-1, 3,2,2,4, 2,3,2,2, -9,-8,-7,-9, -1,-1,2,-2, -6,-6,-3,-4, -2,-4,-3,-2, -4,-3,-6,-5, 5,3,5,3, -2,-6,-5,-3, -3,3,1,3, 4,1,1,1, 5,2,2,3],
[16, 0,1,1,1, -2,-1,1,-1, 1,1,1,0, 3,3,2,2, -8,-5,-6,-6, -1,0,-1,1, -3,-3,-4,-3, -5,-6,-6,-8, -3,-3,-5,-3, 5,2,8,4, -6,-10,-8,-6, 2,3,3,1, 6,1,2,4, 3,0,-1,3],
[2,2,2,1, -1,0,-2,0, -2,-2,0,-1, 0,0,-2,0, -10,-10,-10,-9, -2,0,-1,1, -5,-6,-6,-6, 1,0,2,0, -7,-5,-7,-7, 3,2,5,2, -3,-7,-6,-6, -2,1,1,1, 6,-2,2,2, 3,1,1,2],
[22,22,20, -1,-2,-3,-5, -7,-8,-9,-8, 0,0,1,-2, -9,-14,-10,-7, -2,-3,4,0, -4,-4,-4,-4, -11,4,-8,-5, 1,-2,-4,-4, -1,-4,-3,-2, -5,-7,-7,-6, -4,-7,-3,-5, 8,3,10,7, 9,8,8,9],
[22,23, 0,-2,-3,-4, -4,-6,-4,-6, -1,1,2,-2, -8,-10,-9,-6, -5,1,2,-2, -4,-6,-5,-6, -8,-5,-4,-6, -5,-4,-2,-5, -4,-5,-4,-5, -4,-7,-7,-5, -4,-5,-3,-4, 9,4,9,6, 8,9,7,7],
[23, -1,-4,-5,-6, -8,-10,-9,-8, 4,5,4,5, -10,-14,-11,-9, -4,2,4,-2, -5,-7,-6,-7, -10,4,-4,-10, -8,0,-3,-5, -4,1,-5,-7, -9,-9,-8,-5, -4,-4,-4,-6, 8,4,7,6, 10,9,6,8],
[1,-3,-6,-5, -9,-8,-9,-9, 3,2,4,0, -8,-14,-13,-13, -2,3,4,0, -7,-6,-8,-6, -9,5,-8,-7, -3,-4,-7,-8, -3,-1,1,-5, -5,-9,-7,-5, -2,-5,-3,-7, 10,5,9,9, 9,11,9,8],
[14,16,13, 3,-1,2,-1, -2,0,-1,-1, 5,5,5,7, 0,-2,2,-4, -2,-1,-3,-2, 3,0,-1,0, -5,-3,-3,0, -1,-1,-1,-1, -1,-2,-1,-1, -2,0,-2,-1, 3,0,-2,-3, -4,-2,-4,-2],
[17,14, 1,2,3,2, -1,-1,0,-1, 7,8,7,6, 0,-2,-3,-2, 0,2,2,-2, -2,-1,-3,-1, 1,2,-1,2, 3,5,1,5, 3,-1,2,-1, 2,2,3,0, -4,-7,-5,-5],
[14, 0,2,3,0, -5,-5,-8,-5, 7,10,6,9, 0,-3,-2,1, -3,0,0,-1, -2,2,1,3, -1,4,2,3, -3,-2,-3,-3, 6,8,5,7, -1,-1,0,-6, 3,1,-3,-6, -5,-4,-5,-5],
[4,6,7,6, -1,-2,-4,-2, 3,5,5,6, 1,-3,-3,1, 0,-3,-1,0, 5,3,-2,0, -3,0,-1,0, -2,-2,-2,-3, 5,5,5,5, 3,0,2,4, -4,0,-3,-4, -7,-5,-4,-4],
[20,22,22, 1,0,0,3, 5,11,6,9, -4,-5,-10,-6, 1,3,4,3, 7,4,6,1, -4,1,3,4, -4,2,-5,-6, 9,5,8,4, 5,6,5,7, -3,2,-6,-5, -5,-7,-5,-4],
[21,24, 1,1,0,2, 8,13,10,10, 2,0,-3,-1, 6,3,6,6, 4,1,-1,-3, 2,-1,5,6, 8,3,-3,-6, 8,6,8,6, 5,5,5,7, -3,-3,-7,-5, -5,-6,-7,-4],
[24, 1,-1,1,-2, 10,13,11,9, -3,-5,-9,-5, 5,5,6,5, 4,3,3,2, 0,3,4,9, -7,3,-8,-5, 9,6,7,6, 2,3,4,5, -5,-3,-5,-6, -7,-6,-5,-5],
[4,3,2,5, 6,14,10,11, -3,-6,-9,-7, 3,3,4,6, 0,0,2,-1, 0,5,5,7, -2,0,4,-6, 9,8,8,6, 4,6,4,7, -3,4,-3,-3, -4,-7,-4,-4],
[13,12,10, 1,1,1,0, 1,-1,-1,3, -5,-2,-3,-4, -3,0,1,-1, 0,1,-1,-1, -1,0,2,3, -1,3,-3,-2, -2,-1,1,0, 2,4,3,2, 4,4,0,0, 1,0,1,-1],
[13,11, 4,3,3,2, -5,1,0,3, -3,-3,-4,-5, 3,0,0,1, 2,1,-1,-1, 1,0,3,4, 3,-4,-8,-6, -8,3,1,1, 0,1,3,4, 4,6,1,3, 1,1,1,1],
[11, 2,1,0,1, -2,1,2,1, -1,-3,-1,-2, 2,1,2,2, 6,2,2,3, 3,3,3,4, -4,-6,-7,-6, 1,0,-2,1, 4,4,4,5, 0,5,1,2, 0,0,2,2],
[2,1,1,1, -2,-4,0,-1, -4,-2,-2,-2, 1,1,2,1, 0,1,2,3, 1,3,1,1, -1,-3,-1,-1, 2,0,4,0, 1,5,6,2, 4,2,3,1, 1,1,1,1],
[25,27,24, 0,-2,-3,-3, 7,7,9,6, 2,3,1,2, 6,6,8,9, -1,0,-2,0, 2,4,-1,3, -1,-1,0,-1, 5,-2,2,-1, -8,-4,-5,-3, 1,-2,2,-2],
[27,26, -2,-1,1,-1, 7,6,5,5, 6,6,4,1, 7,8,11,13, -7,-3,-7,-3, 7,5,7,6, 1,3,5,1, -3,-8,-2,-4, -11,-5,-5,-6, -1,0,5,1],
[26, -2,-4,-4,-3, 9,3,4,5, 2,2,1,1, 8,7,10,13, -3,-1,-2,-3, 3,2,3,4, 1,1,2,1, -7,-2,-4,-5, -11,-5,-6,-6, -2,1,4,4],
[1,-2,-1,1, 6,2,4,5, 2,1,1,2, 5,6,9,12, -6,-2,-7,-6, 1,6,3,5, 2,0,0,3, -1,-2,-4,-6, -8,-3,-4,-6, -4,-2,-1,-2],
[17,20,18, 4,3,1,2, -5,2,-1,-1, 0,1,-1,-2, -4,0,-1,4, 0,-1,-2,0, 2,1,3,4, -4,1,4,4, 1,-2,1,-1, 1,2,0,3],
[20,18, 0,-3,-2,3, -1,-1,-2,0, 0,1,2,2, 0,0,5,6, 1,1,-1,-1, 1,6,0,-1, 3,3,4,4, 0,-1,0,-1, 1,1,1,1],
[21, 2,2,1,3, -7,-1,-1,-2, 1,-3,-1,-1, 4,1,-2,2, -1,-1,-1,-1, 5,-1,3,-1, 2,3,5,5, 0,-1,-2,2, -1,0,1,0],
[2,3,3,3, -3,-1,-1,0, 1,-2,-2,-1, 1,-1,-1,2, -2,-1,-1,-3, 1,3,3,3, 2,3,1,2, 0,-2,-1,2, 3,3,0,-3],
[17,16,13, -7,-5,-7,-3, 5,9,6,9, -2,-1,-2,-4, -2,-2,-2,-1, -1,-2,-2,-1, 3,-3,1,-1, -3,3,-2,-2, -5,-3,-3,-5],
[16,15, -1,2,-2,-1, 6,7,8,7, 0,-2,-3,1, 1,1,1,-2, 1,3,2,-2, 3,-3,-2,-2, 5,4,-2,1, -3,-2,-4,-3],
[14, -3,-2,-4,-1, 5,7,8,7, -1,-1,1,-2, 1,-1,2,0, 5,5,3,4, 3,-2,-1,-4, 2,1,2,-2, -3,-4,-4,-3],
[-1,-1,-4,0, 5,5,6,5, 1,1,-2,2, 2,2,2,2, 7,4,4,3, 3,-3,-1,-2, -6,1,-1,-2, -1,-4,-2,-4],
[23,26,22, -5,-6,1,-2, 1,1,1,-2, 6,5,10,4, 3,5,-2,0, 2,-5,-6,-7, -6,1,-2,-7, 0,1,2,-1],
[25,25, -5,-4,-1,0, -1,-1,-2,-1, 3,3,6,-1, 4,1,-1,-1, 2,1,-2,-3, -2,2,-1,1, 1,0,1,0],
[26, -4,-4,1,-2, 1,1,-1,-2, 6,5,9,3, 2,2,1,1, -1,-3,-1,-4, -5,-2,-4,1, 1,-1,-1,-2],
[-6,-4,-1,-2, -2,-1,-2,0, 4,6,6,4, 5,1,1,0, -6,-2,-3,-5, -3,-3,-5,-1, 2,-3,-3,0],
[16,14,15, 1,0,1,-2, 1,2,5,0, -2,-3,-1,0, 4,3,4,-2, 4,-2,-2,-2, 1,-4,-2,-5],
[16,16, -3,-1,-1,-2, 5,4,5,7, -2,-2,0,-4, 0,5,0,-6, -1,0,-1,-1, -3,-2,-7,-6],
[19, -6,-5,-9,-5, 6,7,5,7, -2,-1,-3,-1, -1,1,-1,-2, -1,-6,-4,-2, -6,-3,-7,-6],
[-11,-7,-6,-4, 6,7,8,9, 0,-2,-2,1, -5,-2,-5,-1, -4,-3,-2,-1, -6,-7,-7,-7],
[20,26,20, -9,-10,-8,-11, 5,5,5,3, 4,1,-1,3, 5,1,-1,-2, -4,2,-2,-2],
[25,19, -4,-5,-4,-7, 2,3,3,1, 1,3,4,0, 4,-2,-1,1, 1,-1,-3,-2],
[23, -8,-8,-7,-10, 4,5,5,2, 5,1,2,1, 4,1,-1,3, -2,-3,-3,-2],
[-4,-8,-6,-9, 4,4,2,1, 0,2,6,4, 1,-1,0,-1, -2,-1,-2,-4],
[18,18,19, 2,1,0,3, -4,-2,-5,-5, -5,-2,-3,-3, -5,-3,-3,-6],
[20,21, 2,-3,1,0, -6,3,-7,-8, -6,-1,-5,-4, -5,-6,-3,-4],
[20, 2,0,-1,-1, -4,-2,-5,-6, -5,-1,-2,-4, -3,-2,-3,-3],
[0,1,-2,-2, -3,-3,-5,-5, -7,-4,-5,-4, -2,-3,-2,-5],
[10,8,9, -2,3,0,1, 0,-1,-1,-1, -2,-1,-2,-2],
[8,10, 0,-2,-2,-2, -1,-2,-1,-2, -1,-1,-1,-3],
[11, 0,0,-1,0, -1,-2,-1,-2, 1,1,-1,-3],
[0,-3,-2,0, -2,-4,-3,-3, -2,0,1,-3],
[7,9,10, 6,6,7,4, 2,-4,-1,-3],
[11,11, -2,1,0,-2, 1,-3,-2,-2],
[14, 0,3,4,1, 1,-1,0,-2],
[3,6,6,3, -1,-1,-1,-1],
[11,10,14],
[13,11],
[12],
[]
];
const n=128;
const m=d3.range(n).map(()=>new Array(n).fill(0));
function put(i,j,v){ if(v===undefined||j>=n) return; m[i][j]=v; m[j][i]=v; }
upperA.forEach((r,i)=>r.forEach((v,k)=>{ if(i+1+k<64) put(i,i+1+k,v); }));
blockB.forEach((r,i)=>r.forEach((v,k)=>put(i,64+k,v)));
upperC.forEach((r,i)=>r.forEach((v,k)=>put(64+i,64+i+1+k,v)));
const cells=[];
for(let i=0;i<n;i++){ m[i][i]=100; for(let j=0;j<n;j++) cells.push({row:i,col:j,value:m[i][j]}); }
const chart=Plot.plot({width:3200,height:3200,marginLeft:51.5,marginRight:22.5,marginTop:35.5,marginBottom:39,
style:{fontFamily:"'DejaVu Sans'",background:"#fff"},
x:{type:"band",domain:d3.range(n),padding:0,round:false,label:null},
y:{type:"band",domain:d3.range(n),padding:0,round:false,label:null},
color:{type:"linear",domain:colorStops,range:colorRange,clamp:true},
marks:[
Plot.cell(cells,{x:"col",y:"row",fill:"value",inset:0,shapeRendering:"crispEdges"}),
Plot.text(cells,{x:"col",y:"row",text:d=>String(d.value),fontSize:8,fill:d=>d.value>=50?"#fff":"#000"}),
Plot.frame({stroke:"#000",strokeWidth:1}),
Plot.axisX({anchor:"bottom",ticks:tickValues,tickSize:5,tickPadding:3,fontSize:14,label:null,stroke:"#000",fill:"#000"}),
Plot.axisY({anchor:"left",ticks:tickValues,tickSize:5,tickPadding:3,fontSize:14,label:null,stroke:"#000",fill:"#000"}),
Plot.text([title],{frameAnchor:"top",dx:-40,dy:-13,fontSize:14,fill:"#000",lineAnchor:"middle"})
]});
document.getElementById("c").appendChild(chart);
</script></body></html>
